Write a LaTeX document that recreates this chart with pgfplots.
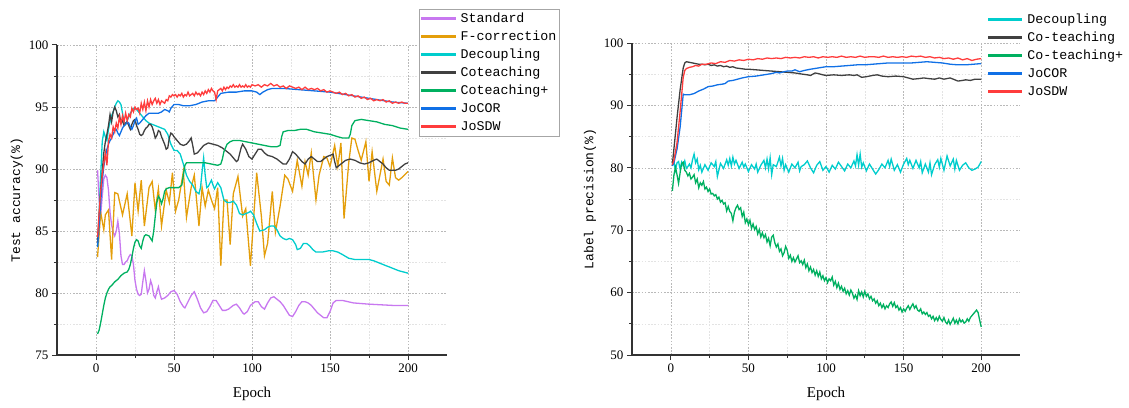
\documentclass[border=0pt]{standalone}
\usepackage{pgfplots}
\pgfplotsset{compat=1.18}
\usepackage{fontspec}
\setmainfont{Liberation Serif}
\newfontfamily\monofont{Liberation Mono}
\definecolor{cstd}{RGB}{200,120,240}
\definecolor{cfc}{RGB}{228,158,10}
\definecolor{cdec}{RGB}{0,205,205}
\definecolor{cct}{RGB}{64,64,64}
\definecolor{cctp}{RGB}{0,176,96}
\definecolor{cjo}{RGB}{16,112,230}
\definecolor{cjs}{RGB}{255,60,60}
\pgfplotsset{
  base/.style={
    scale only axis,
    axis x line*=bottom, axis y line*=left,
    xmin=-25, xmax=225,
    xtick={0,50,100,150,200}, minor xtick={25,75,125,175},
    grid=both,
    major grid style={dash pattern=on 1.6pt off 1.6pt, gray!55, line width=0.6pt},
    minor grid style={dash pattern=on 1.6pt off 1.6pt, gray!22, line width=0.6pt},
    tick align=outside,
    major tick length=5pt, minor tick length=3pt,
    every tick/.style={black!80, line width=1pt},
    axis line style={black!80, line width=1.2pt},
    /pgf/number format/assume math mode=true,
    ticklabel style={font=\fontsize{13}{13}\selectfont},
    xlabel={Epoch},
    xlabel style={font=\fontsize{15}{15}\selectfont, at={(axis description cs:0.5,-0.126)}, anchor=center},
    ylabel style={font=\monofont\fontsize{13}{13}\selectfont},
    legend cell align=left,
    legend image code/.code={\fill[#1] (0pt,-0.9pt) rectangle (33pt,0.9pt);},
    every axis plot/.append style={line width=1.3pt, no marks},
  }
}
\begin{document}
\begin{tikzpicture}
\path[use as bounding box] (0,0) rectangle (1129pt,407pt);
% ---------------- left panel ----------------
\begin{axis}[base,
  at={(57pt,52pt)}, anchor=south west,
  width=390pt, height=310pt,
  ymin=75, ymax=100,
  ytick={75,80,85,90,95,100}, minor ytick={77.5,82.5,87.5,92.5,97.5},
  ylabel={Test accuracy(\%)},
  ylabel style={at={(axis description cs:-0.103,0.5)}, anchor=center},
  legend style={at={(axis description cs:0.928,1.116)}, anchor=north west,
    draw=gray!70, line width=0.8pt, fill=white, inner sep=2pt,
    font=\monofont\fontsize{13.3}{13.3}\selectfont,
    nodes={inner sep=1pt, text height=10pt, text depth=3pt},
    row sep=3pt, column sep=4pt},
]
\addplot[cstd] coordinates {(1,89.9)(2,87.5)(3,86.3)(4,87.8)(5,89.2)(6,89.5)(7,89.3)(8,88.3)(9,86.5)(10,85.5)(11,84.9)(12,84.6)(13,85.0)(14,85.8)(15,84.8)(16,83.0)(17,82.3)(18,82.3)(19,82.5)(20,82.6)(21,82.9)(22,83.1)(23,83.0)(24,82.3)(25,81.0)(26,80.3)(27,79.9)(28,79.8)(29,79.9)(30,80.9)(31,81.8)(32,81.0)(33,80.0)(34,80.3)(35,81.0)(36,80.6)(37,79.8)(38,79.6)(39,80.1)(40,80.5)(41,79.9)(42,79.5)(44,79.6)(46,79.8)(48,80.1)(50,80.2)(52,79.9)(54,79.3)(56,78.9)(57,78.8)(59,79.3)(61,79.8)(63,80.1)(65,79.5)(67,78.8)(69,78.4)(71,78.5)(73,78.9)(75,79.4)(77,79.4)(79,79.0)(81,78.6)(83,78.6)(85,78.7)(88,79.0)(90,79.1)(92,78.8)(94,78.4)(95,78.3)(97,78.5)(99,79.0)(102,79.3)(104,79.3)(106,78.9)(108,78.7)(110,79.2)(112,79.6)(114,79.7)(116,79.5)(118,79.3)(120,79.0)(122,78.6)(124,78.2)(126,78.1)(128,78.5)(130,79.0)(132,79.3)(134,79.3)(136,79.2)(138,79.0)(140,78.7)(142,78.4)(144,78.2)(146,78.0)(148,78.0)(150,78.5)(152,79.2)(154,79.4)(158,79.4)(165,79.2)(175,79.1)(190,79.0)(200,79.0)};
\addlegendentry{Standard}
\addplot[cfc] coordinates {(1,82.9)(3,86.5)(5,85.1)(6,86.3)(8,86.7)(10,82.7)(12,88.1)(14,88.0)(17,86.3)(20,88.0)(23,84.6)(25,88.9)(27,86.6)(29,89.1)(31,85.4)(34,88.5)(36,89.0)(38,86.7)(40,88.4)(42,85.4)(45,88.3)(47,87.3)(49,89.7)(51,86.6)(53,87.5)(56,89.8)(58,86.1)(61,88.5)(63,89.5)(66,85.4)(68,88.5)(70,87.0)(72,88.3)(74,87.5)(76,86.8)(78,88.5)(80,82.2)(82,87.5)(84,87.5)(86,83.9)(88,88.0)(91,89.4)(94,86.2)(96,86.8)(99,82.2)(103,89.7)(106,86.2)(108,83.0)(110,84.0)(113,88.2)(115,84.9)(118,87.0)(121,89.5)(123,89.2)(126,88.2)(129,90.7)(132,88.6)(134,90.6)(136,89.5)(138,91.3)(141,87.5)(143,89.5)(146,91.0)(148,90.9)(150,90.2)(153,91.9)(155,90.2)(157,92.1)(159,86.0)(162,90.5)(164,92.5)(166,92.4)(168,91.5)(170,90.7)(173,92.2)(175,89.0)(177,91.4)(180,88.2)(182,89.5)(184,90.8)(186,89.0)(188,88.7)(190,90.9)(192,89.3)(194,89.1)(196,89.3)(200,89.8)};
\addlegendentry{F-correction}
\addplot[cdec] coordinates {(1,83.8)(2,86.5)(3,89.5)(4,92.2)(5,93.0)(6,92.6)(7,92.3)(8,93.2)(9,93.8)(10,94.3)(11,94.6)(12,95.0)(13,95.3)(14,95.5)(15,95.4)(16,95.2)(17,94.5)(18,93.8)(19,93.6)(20,93.9)(22,94.5)(24,94.9)(26,94.8)(28,94.5)(30,94.2)(32,93.9)(34,93.7)(36,93.6)(38,93.5)(40,93.4)(42,93.3)(44,93.2)(46,92.8)(48,92.0)(50,91.5)(52,91.5)(54,91.2)(56,90.4)(58,89.5)(60,89.0)(62,88.7)(64,88.2)(66,88.0)(67,88.5)(68,89.8)(69,90.9)(70,89.5)(71,88.5)(72,88.6)(74,89.1)(75,88.7)(76,88.4)(78,88.9)(80,88.5)(82,87.5)(84,87.3)(86,87.3)(88,87.4)(90,87.1)(92,86.4)(94,86.3)(96,86.4)(98,86.5)(99,86.6)(101,86.3)(103,85.6)(105,85.0)(108,85.1)(110,85.3)(112,85.4)(114,85.4)(116,85.1)(118,84.6)(120,84.4)(122,84.3)(124,84.4)(126,84.3)(128,83.9)(129,83.5)(131,83.6)(133,84.0)(135,84.0)(137,83.8)(139,83.5)(141,83.3)(145,83.3)(149,83.4)(152,83.4)(155,83.3)(158,83.1)(162,82.8)(166,82.7)(170,82.7)(175,82.7)(178,82.6)(182,82.4)(186,82.2)(190,82.0)(194,81.8)(197,81.7)(200,81.6)};
\addlegendentry{Decoupling}
\addplot[cct] coordinates {(1,84.0)(2,86.0)(3,88.2)(4,89.8)(5,91.3)(6,92.2)(7,92.8)(8,93.5)(9,94.4)(10,93.8)(11,94.6)(12,95.0)(13,94.7)(14,94.2)(15,94.4)(16,93.7)(17,93.9)(18,93.5)(19,93.7)(20,93.8)(21,93.5)(22,93.2)(23,93.6)(24,93.9)(25,94.0)(26,93.5)(27,93.2)(28,92.8)(29,92.7)(30,92.8)(31,93.1)(32,93.3)(33,93.4)(34,93.6)(35,93.6)(36,93.4)(37,93.0)(38,92.5)(39,92.7)(40,93.1)(41,93.0)(42,92.6)(43,92.3)(44,92.0)(45,91.6)(46,91.7)(47,92.5)(48,92.9)(49,92.8)(50,92.6)(52,92.3)(54,92.0)(56,91.9)(58,92.0)(60,92.3)(61,92.5)(62,91.9)(63,91.2)(65,91.3)(67,91.6)(69,91.9)(72,92.1)(75,92.0)(78,91.9)(81,91.7)(84,91.4)(86,91.2)(88,90.9)(90,90.6)(91,90.7)(93,91.7)(94,92.0)(96,91.6)(98,91.0)(100,90.8)(102,91.2)(104,91.6)(106,91.6)(108,91.3)(110,91.1)(113,91.0)(116,90.8)(118,90.6)(120,90.4)(122,90.4)(124,90.8)(126,91.4)(128,91.2)(130,90.9)(132,90.6)(134,90.4)(136,90.8)(138,91.0)(140,90.8)(142,90.6)(144,90.6)(146,90.8)(148,91.0)(150,91.1)(152,91.2)(153,90.6)(154,90.1)(156,90.3)(158,90.5)(160,90.7)(163,90.8)(166,90.7)(169,90.5)(172,90.4)(175,90.5)(178,90.7)(180,90.8)(182,90.6)(184,90.4)(186,90.1)(188,89.9)(190,89.9)(192,89.9)(194,90.0)(196,90.2)(198,90.4)(200,90.5)};
\addlegendentry{Coteaching}
\addplot[cctp] coordinates {(1,76.7)(2,77.0)(3,77.6)(4,78.3)(5,79.0)(6,79.6)(7,80.0)(8,80.3)(9,80.5)(10,80.6)(12,80.9)(14,81.1)(16,81.4)(18,81.6)(20,81.7)(21,81.9)(22,82.3)(23,82.9)(24,83.6)(25,84.1)(26,84.3)(27,84.2)(28,83.8)(29,83.6)(30,84.2)(31,84.6)(32,84.7)(34,84.6)(35,84.4)(36,84.2)(37,85.0)(38,86.2)(39,87.3)(40,87.8)(41,87.6)(42,87.2)(43,87.6)(44,88.2)(45,88.4)(47,88.5)(50,88.5)(53,88.5)(55,88.7)(56,89.5)(57,90.3)(58,90.5)(62,90.5)(66,90.5)(70,90.5)(74,90.4)(78,90.3)(80,90.4)(81,90.8)(82,91.4)(84,92.0)(86,92.2)(88,92.3)(92,92.3)(96,92.2)(100,92.1)(104,92.0)(108,91.9)(112,91.8)(116,91.8)(118,91.9)(119,92.6)(120,93.0)(123,93.1)(127,93.1)(131,93.2)(135,93.2)(140,93.0)(145,92.9)(150,92.8)(155,92.6)(158,92.5)(162,92.5)(163,92.8)(164,93.5)(166,93.9)(170,94.0)(175,93.9)(180,93.8)(185,93.6)(190,93.5)(195,93.3)(200,93.2)};
\addlegendentry{Coteaching+}
\addplot[cjo] coordinates {(1,83.7)(2,85.5)(3,87.3)(4,89.0)(5,90.2)(6,91.0)(7,91.6)(8,92.0)(9,92.3)(10,92.5)(11,92.8)(12,93.1)(13,93.2)(14,92.9)(15,92.7)(16,93.0)(17,93.3)(18,93.5)(19,93.6)(20,93.8)(21,93.7)(22,93.4)(23,93.2)(24,93.5)(25,93.9)(26,94.1)(27,93.6)(28,93.7)(30,94.0)(32,94.3)(34,94.5)(36,94.5)(38,94.5)(40,94.5)(42,94.6)(44,94.8)(46,94.7)(47,94.6)(48,94.9)(50,95.2)(53,95.2)(56,95.1)(60,95.1)(64,95.2)(68,95.4)(72,95.5)(76,95.5)(78,95.8)(80,96.1)(85,96.2)(90,96.2)(95,96.3)(100,96.3)(103,96.2)(105,96.0)(107,96.2)(110,96.4)(113,96.5)(120,96.5)(130,96.4)(140,96.3)(150,96.2)(160,96.0)(170,95.8)(180,95.6)(190,95.4)(200,95.3)};
\addlegendentry{JoCOR}
\addplot[cjs] coordinates {(1,84.5)(2,86.5)(3,88.2)(4,89.5)(5,90.4)(6,91.3)(7,90.3)(8,92.2)(9,92.8)(10,92.5)(11,93.4)(12,93.0)(13,93.7)(14,93.3)(15,94.2)(16,93.6)(17,94.3)(18,93.8)(19,94.5)(20,93.9)(21,94.4)(22,94.2)(23,94.9)(24,94.6)(25,95.0)(26,94.8)(27,94.9)(28,94.5)(29,95.3)(30,94.8)(31,95.4)(32,94.7)(33,95.5)(34,95.0)(35,95.6)(36,95.2)(37,95.5)(38,95.7)(39,95.3)(40,95.6)(41,95.2)(42,95.5)(43,95.4)(44,95.3)(45,95.6)(46,95.5)(47,95.9)(48,95.8)(49,96.0)(50,95.9)(51,96.0)(52,95.8)(53,96.0)(54,95.9)(55,96.1)(56,95.8)(57,96.0)(58,95.9)(59,96.2)(60,95.9)(61,96.0)(62,96.1)(63,95.9)(64,96.2)(65,96.0)(66,96.1)(67,95.9)(68,96.2)(69,96.0)(70,96.3)(71,96.1)(72,96.4)(73,96.2)(74,96.5)(75,96.3)(76,96.2)(77,95.6)(78,96.3)(79,96.4)(80,96.5)(81,96.3)(82,96.6)(83,96.4)(84,96.6)(85,96.5)(86,96.7)(87,96.6)(88,96.8)(89,96.6)(90,96.7)(91,96.6)(92,96.8)(93,96.6)(94,96.7)(95,96.6)(96,96.8)(97,96.6)(98,96.7)(99,96.6)(100,96.8)(102,96.7)(104,96.8)(106,96.6)(108,96.8)(110,96.7)(112,96.9)(114,96.7)(116,96.8)(118,96.6)(120,96.7)(122,96.5)(124,96.7)(126,96.6)(128,96.5)(130,96.6)(132,96.4)(134,96.6)(136,96.4)(138,96.5)(140,96.4)(142,96.5)(144,96.3)(146,96.4)(148,96.2)(150,96.3)(152,96.2)(154,96.1)(156,96.2)(158,96.0)(160,96.1)(162,95.9)(164,96.0)(166,95.8)(168,95.9)(170,95.7)(172,95.8)(174,95.6)(176,95.7)(178,95.5)(180,95.6)(182,95.5)(184,95.6)(186,95.4)(188,95.5)(190,95.3)(192,95.4)(194,95.3)(196,95.4)(198,95.3)(200,95.3)};
\addlegendentry{JoSDW}
\end{axis}
% ---------------- right panel ----------------
\begin{axis}[base,
  at={(632pt,52pt)}, anchor=south west,
  width=388pt, height=312pt,
  ymin=50, ymax=100,
  ytick={50,60,70,80,90,100}, minor ytick={55,65,75,85,95},
  ylabel={Label precision(\%)},
  ylabel style={at={(axis description cs:-0.108,0.5)}, anchor=center},
  legend style={at={(axis description cs:0.912,1.106)}, anchor=north west,
    draw=none, fill=none, inner sep=2pt,
    font=\monofont\fontsize{13.3}{13.3}\selectfont,
    nodes={inner sep=1pt, text height=10pt, text depth=3pt},
    row sep=3pt, column sep=4pt},
]
\addplot[cdec] coordinates {(1,80.5)(2,80.9)(3,79.6)(4,80.8)(5,81.0)(6,79.8)(7,80.9)(8,80.3)(9,81.1)(10,79.9)(11,80.2)(12,80.6)(13,80.0)(14,81.3)(15,82.2)(16,80.8)(17,81.4)(18,79.7)(19,80.4)(20,79.3)(22,80.5)(24,79.6)(26,80.8)(28,80.2)(29,81.0)(30,78.6)(32,80.7)(34,79.9)(36,81.3)(37,80.4)(38,81.5)(39,80.3)(40,81.7)(41,80.6)(42,81.2)(44,79.9)(46,80.9)(47,80.1)(48,80.6)(50,79.4)(52,80.5)(54,79.8)(55,80.6)(56,79.3)(58,80.4)(60,81.2)(61,80.0)(62,81.4)(63,79.8)(64,81.6)(65,78.9)(66,80.5)(68,80.2)(70,81.7)(71,80.3)(72,81.5)(73,79.6)(74,80.5)(76,79.3)(78,80.6)(80,80.0)(82,80.9)(83,79.5)(84,80.2)(86,80.5)(88,81.1)(90,80.0)(92,79.2)(94,80.4)(96,81.0)(98,79.6)(100,80.2)(102,79.3)(104,80.4)(106,79.8)(108,80.9)(110,80.2)(112,79.5)(114,80.6)(116,80.0)(118,81.1)(119,80.3)(120,82.1)(121,80.4)(122,82.2)(123,80.1)(124,80.8)(126,79.5)(128,80.6)(130,79.8)(132,79.0)(134,79.7)(136,80.6)(138,80.0)(140,81.2)(141,80.2)(142,81.4)(144,79.6)(146,80.5)(148,79.3)(150,80.6)(152,81.5)(153,80.5)(154,81.2)(156,79.9)(158,81.2)(160,80.0)(161,81.0)(162,79.2)(164,80.6)(166,79.3)(167,80.8)(168,78.9)(170,80.5)(172,81.3)(173,80.1)(174,81.5)(176,79.6)(178,81.9)(180,80.3)(182,81.4)(183,79.8)(184,81.2)(186,79.6)(188,80.4)(190,80.8)(192,80.0)(194,79.6)(196,79.8)(198,80.1)(200,81.0)};
\addlegendentry{Decoupling}
\addplot[cct] coordinates {(1,80.5)(2,83.0)(4,88.0)(6,92.5)(8,96.0)(9,96.8)(10,97.0)(12,96.9)(14,96.8)(16,96.7)(18,96.6)(20,96.6)(22,96.5)(24,96.6)(26,96.4)(28,96.5)(30,96.3)(32,96.4)(34,96.2)(36,96.3)(38,96.1)(40,96.2)(42,96.0)(45,95.9)(48,95.8)(50,95.8)(55,95.7)(60,95.6)(65,95.5)(70,95.4)(75,95.3)(80,95.2)(85,95.0)(88,94.9)(90,94.8)(93,95.2)(95,95.1)(98,94.9)(100,94.8)(105,94.9)(110,94.8)(115,94.9)(118,94.8)(120,94.9)(123,94.5)(126,94.6)(130,94.8)(133,94.9)(136,94.7)(140,94.6)(145,94.7)(150,94.6)(153,94.4)(156,94.2)(160,94.3)(163,94.4)(166,94.3)(170,94.2)(173,94.4)(176,94.2)(180,94.4)(183,94.1)(185,93.9)(188,94.0)(190,94.1)(193,94.0)(196,94.2)(200,94.2)};
\addlegendentry{Co-teaching}
\addplot[cctp] coordinates {(1,76.3)(2,78.8)(3,80.1)(4,78.9)(5,77.5)(6,79.2)(7,80.7)(8,80.9)(9,79.6)(10,79.3)(11,78.7)(12,79.1)(13,78.2)(14,78.5)(15,78.9)(16,77.6)(17,78.2)(18,76.8)(19,77.6)(20,77.2)(21,77.8)(22,76.6)(23,76.9)(24,76.2)(25,76.6)(26,75.8)(27,75.9)(28,75.5)(29,75.7)(30,75.0)(31,75.3)(32,74.5)(33,74.8)(34,74.2)(35,74.4)(36,73.1)(37,73.8)(38,73.0)(39,72.7)(40,71.5)(41,72.9)(42,73.6)(43,74.0)(44,73.3)(45,73.6)(46,72.2)(47,72.9)(48,71.2)(49,71.8)(50,70.9)(51,71.6)(52,70.3)(53,71.0)(54,70.1)(55,70.6)(56,69.4)(57,70.1)(58,68.9)(59,69.6)(60,68.8)(61,69.3)(62,68.1)(63,68.7)(64,67.5)(65,68.9)(66,69.2)(67,68.0)(68,67.3)(69,67.8)(70,66.6)(71,67.0)(72,65.9)(73,66.4)(74,67.4)(75,66.8)(76,65.5)(77,66.0)(78,65.0)(79,65.6)(80,64.9)(81,65.4)(82,65.9)(83,64.8)(84,65.1)(85,64.5)(86,65.2)(87,64.0)(88,64.6)(89,63.5)(90,64.1)(91,63.2)(92,63.7)(93,62.8)(94,63.5)(95,62.6)(96,63.3)(97,62.2)(98,62.7)(99,61.9)(100,62.4)(101,61.6)(102,62.2)(103,61.9)(104,62.5)(105,61.2)(106,61.8)(107,60.8)(108,61.5)(109,60.5)(110,61.0)(111,60.2)(112,60.7)(113,59.8)(114,60.3)(115,59.6)(116,60.4)(117,59.9)(118,59.1)(119,59.6)(120,58.9)(121,60.3)(122,59.5)(123,60.1)(124,59.3)(125,60.2)(126,59.4)(127,59.8)(128,59.0)(129,59.4)(130,58.7)(131,59.0)(132,58.3)(133,58.7)(134,57.9)(135,58.3)(136,57.6)(137,58.1)(138,57.4)(139,57.9)(140,57.6)(141,58.2)(142,58.5)(143,57.8)(144,58.4)(145,57.6)(146,57.9)(147,57.2)(148,57.6)(149,56.9)(150,57.4)(151,57.0)(152,57.5)(153,57.9)(154,57.3)(155,57.8)(156,58.2)(157,57.5)(158,57.9)(159,57.2)(160,57.0)(161,57.4)(162,56.6)(163,56.9)(164,56.5)(165,56.8)(166,56.2)(167,56.4)(168,55.8)(169,56.2)(170,55.5)(171,56.0)(172,55.5)(173,56.2)(174,55.7)(175,55.4)(176,56.0)(177,55.3)(178,55.0)(179,55.6)(180,54.9)(181,55.4)(182,55.9)(183,55.1)(184,55.6)(185,55.0)(186,55.8)(187,55.3)(188,55.6)(189,55.1)(190,55.3)(191,55.8)(192,55.4)(193,56.0)(194,56.3)(195,56.6)(196,56.9)(197,57.2)(198,56.8)(199,55.6)(200,54.5)};
\addlegendentry{Co-teaching+}
\addplot[cjo] coordinates {(1,80.3)(2,80.8)(4,83.0)(6,86.5)(8,91.8)(9,91.7)(12,91.7)(15,91.9)(18,92.3)(21,92.6)(24,93.0)(27,93.1)(30,93.3)(33,93.4)(35,93.5)(37,93.9)(40,94.0)(43,94.2)(46,94.4)(50,94.6)(55,94.7)(60,94.9)(65,95.1)(68,95.3)(70,95.2)(73,95.4)(75,95.5)(78,95.5)(80,95.7)(83,95.4)(86,95.6)(90,95.8)(95,96.0)(100,96.2)(105,96.2)(110,96.3)(115,96.4)(120,96.5)(125,96.5)(130,96.6)(135,96.7)(140,96.8)(145,96.8)(150,96.8)(155,96.8)(160,96.9)(165,97.0)(170,96.9)(175,96.8)(180,96.6)(185,96.5)(190,96.5)(195,96.6)(200,96.7)};
\addlegendentry{JoCOR}
\addplot[cjs] coordinates {(1,80.5)(2,81.2)(4,84.0)(6,89.0)(8,94.5)(9,95.6)(10,95.9)(12,96.1)(14,96.2)(16,96.4)(18,96.3)(20,96.6)(23,96.6)(26,96.8)(29,96.7)(32,97.0)(35,96.9)(38,97.2)(41,97.1)(44,97.3)(47,97.2)(50,97.4)(53,97.3)(56,97.5)(59,97.4)(62,97.6)(65,97.5)(68,97.6)(71,97.5)(74,97.7)(77,97.6)(80,97.7)(83,97.6)(86,97.8)(89,97.7)(92,97.8)(95,97.6)(98,97.8)(101,97.7)(104,97.8)(107,97.7)(110,97.9)(113,97.7)(116,97.8)(119,97.7)(122,97.9)(125,97.7)(128,97.8)(131,97.8)(134,97.7)(137,97.9)(140,97.7)(143,97.8)(146,97.7)(149,97.8)(152,97.7)(155,97.9)(158,97.8)(161,97.9)(164,97.7)(167,97.8)(170,97.6)(173,97.7)(176,97.5)(179,97.6)(182,97.4)(185,97.6)(188,97.3)(191,97.5)(194,97.2)(197,97.4)(200,97.5)};
\addlegendentry{JoSDW}
\end{axis}
\end{tikzpicture}
\end{document}
